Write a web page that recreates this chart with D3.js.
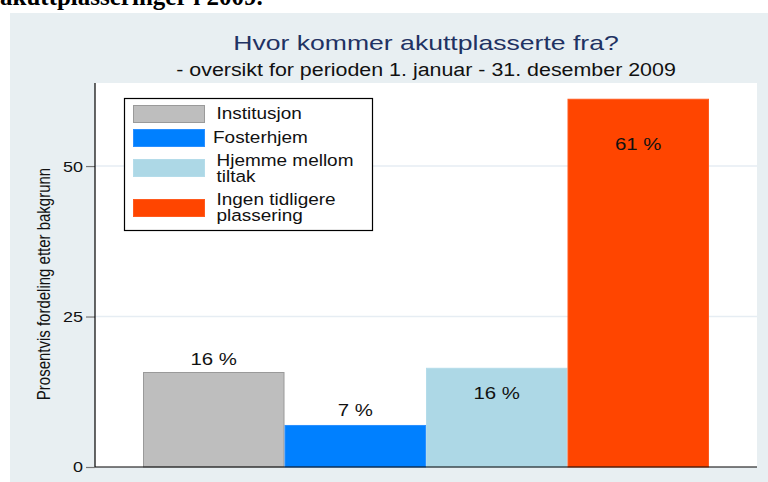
<!DOCTYPE html>
<html>
<head>
<meta charset="utf-8">
<script src="https://cdn.jsdelivr.net/npm/d3@7"></script>
<style>
  html, body { margin: 0; padding: 0; background: #ffffff; }
  svg { display: block; font-family: "Liberation Sans", Arial, sans-serif; }
</style>
</head>
<body>
<svg id="chart" width="768" height="482"></svg>
<script>
// ---- data ----
const categories = ["Institusjon", "Fosterhjem", "Hjemme mellom tiltak", "Ingen tidligere plassering"];
const legendLines = [["Institusjon"], ["Fosterhjem"], ["Hjemme mellom", "tiltak"], ["Ingen tidligere", "plassering"]];
const values = [15.7, 6.9, 16.4, 61.1];
const labelAt = [16.9, 8.4, 11.3, 52.7];
const colors = ["#bebebe", "#0080ff", "#add8e6", "#ff4500"];
const strokes = ["#9a9a9a", "#2a8fff", "#b4dcea", "#ff5a1e"];
const yTicks = [0, 25, 50];
const titleText = "Hvor kommer akuttplasserte fra?";
const subtitleText = "- oversikt for perioden 1. januar - 31. desember 2009";
const yTitle = "Prosentvis fordeling etter bakgrunn";
const headingText = "akuttplasseringer i 2009.";

// ---- layout ----
const svg = d3.select("#chart");
const plot = { left: 95, right: 757, top: 83, bottom: 467 };

// page heading (cut off at top)
svg.append("text")
  .attr("x", 0).attr("y", 5)
  .attr("font-family", "'Liberation Serif', 'Times New Roman', serif")
  .attr("font-weight", "bold")
  .attr("font-size", 25)
  .attr("fill", "#000")
  .text(headingText);

// graph background
svg.append("rect").attr("x", 10).attr("y", 13).attr("width", 758).attr("height", 469).attr("fill", "#e8eff2");
// plot region
svg.append("rect").attr("x", plot.left).attr("y", plot.top)
  .attr("width", plot.right - plot.left).attr("height", plot.bottom - plot.top).attr("fill", "#ffffff");

const y = d3.scaleLinear().domain([0, 63.8]).range([plot.bottom, plot.top]);
const x = d3.scaleBand().domain(categories).range([143, 709]).padding(0);

// gridlines
svg.append("g").selectAll("line").data(yTicks.filter(d => d > 0)).join("line")
  .attr("x1", plot.left).attr("x2", plot.right)
  .attr("y1", d => y(d)).attr("y2", d => y(d))
  .attr("stroke", "#e6edf3").attr("stroke-width", 1.5);

// y axis
const yAxis = svg.append("g").attr("transform", `translate(${plot.left},0)`)
  .call(d3.axisLeft(y).tickValues(yTicks).tickSize(9).tickPadding(3).tickFormat(d3.format("d")));
yAxis.select(".domain").remove();
yAxis.selectAll(".tick line").attr("stroke", "#777").attr("stroke-width", 1.2);
yAxis.selectAll(".tick text")
  .attr("font-size", 15.5).attr("fill", "#111")
  .attr("font-family", "'Liberation Sans', Arial, sans-serif")
  .each(function() {
    const t = d3.select(this);
    const xx = +t.attr("x");
    t.attr("x", null).attr("transform", `translate(${xx},0) scale(1.16,1)`);
  });

// bars
svg.append("g").selectAll("rect").data(categories).join("rect")
  .attr("x", d => x(d) + 0.5)
  .attr("y", (d, i) => y(values[i]))
  .attr("width", x.bandwidth() - 1)
  .attr("height", (d, i) => y(0) - y(values[i]))
  .attr("fill", (d, i) => colors[i])
  .attr("stroke", (d, i) => strokes[i])
  .attr("stroke-width", 1);

// bar labels
svg.append("g").selectAll("text").data(categories).join("text")
  .attr("transform", (d, i) => `translate(${x(d) + x.bandwidth() / 2},${y(labelAt[i])}) scale(1.2,1)`)
  .attr("text-anchor", "middle")
  .attr("font-size", 17)
  .attr("fill", "#111")
  .text((d, i) => Math.round(values[i]) + " %");

// axis lines
svg.append("line").attr("x1", plot.left).attr("x2", plot.left).attr("y1", plot.top).attr("y2", plot.bottom)
  .attr("stroke", "#000").attr("stroke-width", 1.2);
svg.append("line").attr("x1", plot.left).attr("x2", plot.right).attr("y1", plot.bottom).attr("y2", plot.bottom)
  .attr("stroke", "#000").attr("stroke-width", 1.2);

// y title
svg.append("text")
  .attr("transform", "translate(49.5,284) scale(1.2,1) rotate(-90)")
  .attr("text-anchor", "middle")
  .attr("font-size", 15)
  .attr("fill", "#111")
  .text(yTitle);

// titles
svg.append("text")
  .attr("transform", `translate(${(plot.left + plot.right) / 2},50) scale(1.33,1)`)
  .attr("text-anchor", "middle")
  .attr("font-size", 20)
  .attr("fill", "#1f3263")
  .text(titleText);
svg.append("text")
  .attr("transform", `translate(${(plot.left + plot.right) / 2},76) scale(1.19,1)`)
  .attr("text-anchor", "middle")
  .attr("font-size", 18)
  .attr("fill", "#111")
  .text(subtitleText);

// legend
const legend = svg.append("g");
legend.append("rect").attr("x", 124.5).attr("y", 98.5).attr("width", 248).attr("height", 132)
  .attr("fill", "#fff").attr("stroke", "#000").attr("stroke-width", 1.2);
const swatchY = [105, 129, 159, 199];
const textY = [[119.3], [143.3], [166, 182], [205, 221]];
const items = legend.selectAll("g.item").data(categories).join("g").attr("class", "item");
items.append("rect")
  .attr("x", 133.5).attr("y", (d, i) => swatchY[i] + 0.5)
  .attr("width", 71).attr("height", 17)
  .attr("fill", (d, i) => colors[i])
  .attr("stroke", (d, i) => strokes[i]).attr("stroke-width", 1);
items.each(function(d, i) {
  const g = d3.select(this);
  legendLines[i].forEach((line, j) => {
    g.append("text")
      .attr("transform", `translate(${i === 1 ? 213 : 216.5},${textY[i][j]}) scale(1.15,1)`)
      .attr("font-size", 16.5)
      .attr("fill", "#111")
      .text(line);
  });
});
</script>
</body>
</html>
